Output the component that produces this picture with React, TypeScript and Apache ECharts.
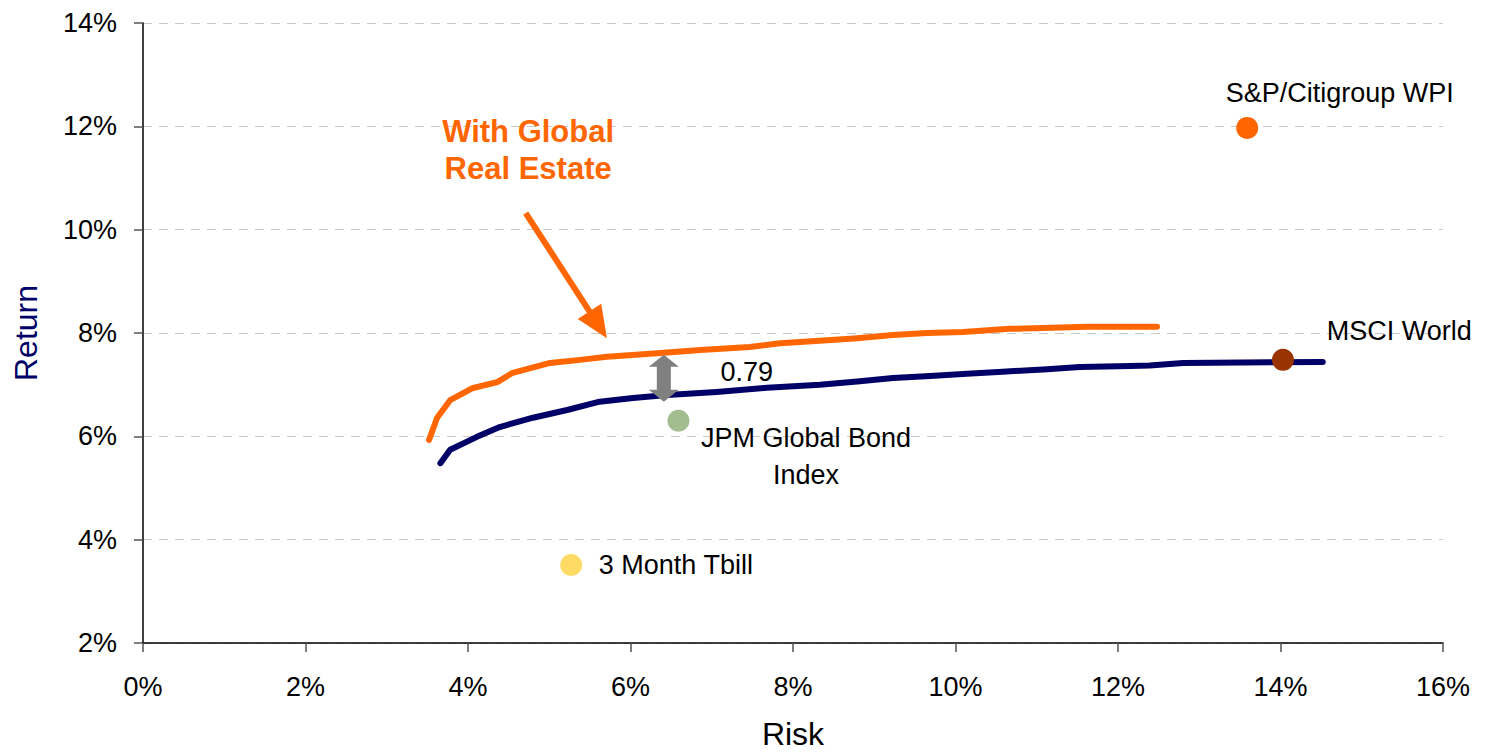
import React, { useEffect, useRef } from "react";
import * as echarts from "echarts";

// Efficient frontier with global real estate (risk %, return %)
const withRealEstateRisk = [3.52, 3.62, 3.78, 4.05, 4.36, 4.55, 5.01, 5.38, 5.71, 6.33, 6.86, 7.47, 7.84, 8.33, 8.79, 9.23, 9.65, 10.09, 10.67, 11.62, 12.48];
const withRealEstateReturn = [5.93, 6.36, 6.7, 6.93, 7.05, 7.23, 7.42, 7.48, 7.54, 7.61, 7.67, 7.73, 7.8, 7.85, 7.9, 7.96, 8.0, 8.02, 8.08, 8.12, 8.12];

// Efficient frontier without real estate
const withoutRealEstateRisk = [3.66, 3.78, 4.11, 4.39, 4.8, 5.22, 5.62, 6.03, 6.45, 7.06, 7.68, 8.33, 8.79, 9.23, 9.69, 10.14, 10.58, 11.13, 11.53, 12.15, 12.39, 12.8, 14.52];
const withoutRealEstateReturn = [5.48, 5.74, 5.99, 6.18, 6.36, 6.51, 6.67, 6.74, 6.8, 6.86, 6.94, 7.0, 7.06, 7.13, 7.17, 7.21, 7.25, 7.3, 7.34, 7.36, 7.37, 7.42, 7.44];

// Individual assets
const assetNames = ["S&P/Citigroup WPI", "MSCI World", "JPM Global Bond Index", "3 Month Tbill"];
const assetRisk = [13.59, 14.03, 6.59, 5.27];
const assetReturn = [11.97, 7.48, 6.3, 3.51];
const assetColors = ["#FF6600", "#993300", "#A2BE90", "#FFDB66"];

const xTicks = [0, 2, 4, 6, 8, 10, 12, 14, 16];
const yTicks = [2, 4, 6, 8, 10, 12, 14];

const FONT = "'Liberation Sans', Arial, Helvetica, sans-serif";

export default function App() {
  const ref = useRef<HTMLDivElement>(null);

  useEffect(() => {
    if (!ref.current) return;
    const chart = echarts.init(ref.current, null, { renderer: "svg", width: 1488, height: 755 });

    const orangeData = withRealEstateRisk.map((x, i) => [x, withRealEstateReturn[i]]);
    const navyData = withoutRealEstateRisk.map((x, i) => [x, withoutRealEstateReturn[i]]);
    const assetData = assetNames.map((n, i) => ({
      name: n,
      value: [assetRisk[i], assetReturn[i]],
      itemStyle: { color: assetColors[i], opacity: 1 },
    }));

    chart.setOption({
      animation: false,
      backgroundColor: "#ffffff",
      grid: {
        left: 143,
        right: 45,
        top: 23,
        bottom: 112,
        containLabel: false,
        outerBoundsMode: "none",
      },
      xAxis: {
        type: "value",
        min: xTicks[0],
        max: xTicks[xTicks.length - 1],
        interval: 2,
        name: "Risk",
        nameLocation: "middle",
        nameGap: 78,
        nameTextStyle: { color: "#000000", fontSize: 32, fontFamily: FONT, lineHeight: 26 },
        axisLine: { show: true, lineStyle: { color: "#000000", width: 1.5 } },
        axisTick: { show: true, inside: false, length: 9, lineStyle: { color: "#555555", width: 1.5 } },
        axisLabel: {
          color: "#000000",
          fontSize: 27,
          fontFamily: FONT,
          margin: 30,
          formatter: (v: number) => `${v}%`,
        },
        splitLine: { show: false },
      },
      yAxis: {
        type: "value",
        min: yTicks[0],
        max: yTicks[yTicks.length - 1],
        interval: 2,
        name: "Return",
        nameLocation: "middle",
        nameGap: 101,
        nameTextStyle: { color: "#000066", fontSize: 32, fontFamily: FONT },
        axisLine: { show: true, lineStyle: { color: "#000000", width: 1.5 } },
        axisTick: { show: true, inside: false, length: 9, lineStyle: { color: "#555555", width: 1.5 } },
        axisLabel: {
          color: "#000000",
          fontSize: 27,
          fontFamily: FONT,
          margin: 26,
          formatter: (v: number) => `${v}%`,
        },
        splitLine: { show: true, lineStyle: { color: "#c8c8c8", type: [9, 7], width: 1.2 } },
      },
      series: [
        {
          type: "line",
          name: "With Global Real Estate",
          data: orangeData,
          showSymbol: false,
          symbol: "none",
          lineStyle: { color: "#FF6600", width: 6, cap: "round", join: "round" },
          z: 2,
        },
        {
          type: "line",
          name: "Without Real Estate",
          data: navyData,
          showSymbol: false,
          symbol: "none",
          lineStyle: { color: "#000066", width: 6, cap: "round", join: "round" },
          z: 2,
        },
        {
          type: "scatter",
          name: "Assets",
          data: assetData,
          symbolSize: 22,
          itemStyle: { opacity: 1 },
          z: 5,
        },
      ],
    });

    const px = (x: number, y: number) => chart.convertToPixel({ gridIndex: 0 }, [x, y]) as number[];

    // gray double arrow between frontiers
    const gTop = px(6.41, 7.58);
    const gBot = px(6.41, 6.67);
    const cx = gTop[0];
    const ty = gTop[1];
    const by = gBot[1];
    const hw = 15, hh = 12, sw = 7;
    const grayArrow = [
      [cx, ty], [cx + hw, ty + hh], [cx + sw, ty + hh], [cx + sw, by - hh], [cx + hw, by - hh],
      [cx, by], [cx - hw, by - hh], [cx - sw, by - hh], [cx - sw, ty + hh], [cx - hw, ty + hh],
    ];

    // orange pointer arrow
    const oStart = px(4.71, 10.32);
    const oTip = px(5.71, 7.9);
    const dx = oTip[0] - oStart[0];
    const dy = oTip[1] - oStart[1];
    const len = Math.sqrt(dx * dx + dy * dy);
    const ux = dx / len, uy = dy / len;
    const pxv = -uy, pyv = ux;
    const headLen = 32, headHalf = 14;
    const base = [oTip[0] - ux * headLen, oTip[1] - uy * headLen];
    const headPts = [
      oTip,
      [base[0] + pxv * headHalf, base[1] + pyv * headHalf],
      [base[0] - pxv * headHalf, base[1] - pyv * headHalf],
    ];

    const tSP = px(14.73, 12.65);
    const tMSCI = px(14.57, 8.04);
    const t079 = px(7.43, 7.25);
    const tJPM = px(8.16, 5.61);
    const tBill = px(5.61, 3.51);
    const tWGRE = px(4.74, 11.54);

    const txt = (p: number[], text: string, align: string, extra: any = {}) => ({
      type: "text",
      x: p[0],
      y: p[1],
      z: 10,
      style: {
        text,
        fill: "#000000",
        fontSize: 27,
        fontFamily: FONT,
        align,
        verticalAlign: "middle",
        ...extra,
      },
    });

    chart.setOption({
      graphic: [
        {
          type: "polygon",
          z: 10,
          shape: { points: grayArrow },
          style: { fill: "#808080" },
        },
        {
          type: "line",
          z: 10,
          shape: { x1: oStart[0], y1: oStart[1], x2: base[0] + ux * 2, y2: base[1] + uy * 2 },
          style: { stroke: "#FF6600", lineWidth: 6 },
        },
        {
          type: "polygon",
          z: 10,
          shape: { points: headPts },
          style: { fill: "#FF6600" },
        },
        txt(tSP, "S&P/Citigroup WPI", "center"),
        txt(tMSCI, "MSCI World", "left"),
        txt(t079, "0.79", "center"),
        txt(tJPM, "JPM Global Bond\nIndex", "center", { lineHeight: 37 }),
        txt(tBill, "3 Month Tbill", "left"),
        txt(tWGRE, "With Global\nReal Estate", "center", {
          fill: "#FF6600",
          fontWeight: "bold",
          fontSize: 31,
          lineHeight: 37,
        }),
      ],
    });

    return () => chart.dispose();
  }, []);

  return (
    <div
      ref={ref}
      style={{ position: "fixed", left: 0, top: 0, width: 1488, height: 755 }}
    />
  );
}
